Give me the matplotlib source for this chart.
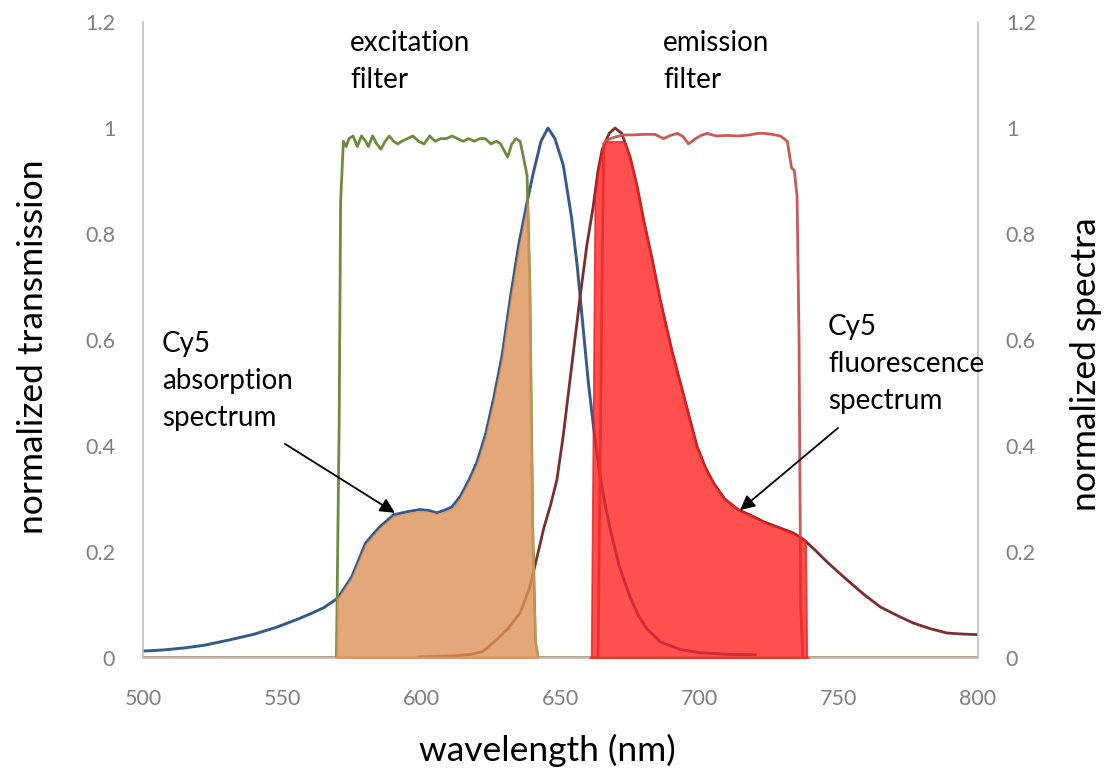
import matplotlib
matplotlib.use("Agg")
import matplotlib.pyplot as plt
import numpy as np

plt.rcParams["font.family"] = ["Lato", "DejaVu Sans"]

# Cy5 absorption spectrum (blue)
ABS_WL = [500, 507, 515, 522, 531, 540, 548, 555, 560, 565, 570, 575, 580,
          585, 590, 595, 599.5, 603, 605.5, 608, 611, 614, 617.5, 620, 623,
          626, 629, 632, 635, 638, 640, 643, 645.5, 648, 651, 654, 656, 658,
          660, 662, 664, 666, 668, 671, 675, 678, 681, 686, 693, 700, 710, 720]
ABS_VAL = [0.013, 0.015, 0.019, 0.024, 0.034, 0.045, 0.058, 0.072, 0.083,
           0.095, 0.113, 0.153, 0.217, 0.247, 0.27, 0.276, 0.28, 0.278, 0.274,
           0.278, 0.285, 0.305, 0.34, 0.37, 0.42, 0.49, 0.57, 0.68, 0.78, 0.86,
           0.91, 0.975, 1.0, 0.98, 0.93, 0.83, 0.74, 0.63, 0.52, 0.43, 0.35,
           0.29, 0.24, 0.175, 0.115, 0.08, 0.055, 0.03, 0.016, 0.01, 0.007,
           0.006]

# Cy5 fluorescence spectrum (dark red)
FL_WL = [599, 605, 612, 618, 622, 627, 631, 635.5, 639, 642, 644, 646.5,
         648.7, 651, 654, 657, 659.5, 661.7, 663.5, 665, 667.5, 669.6, 672,
         675, 677.5, 679.7, 683, 685.8, 690, 695, 699, 702, 705, 709, 713.8,
         718, 723, 728, 733.6, 737, 740.8, 746, 753, 759, 765, 771, 776.7,
         783, 789, 795, 800]
FL_VAL = [0.002, 0.003, 0.004, 0.007, 0.012, 0.034, 0.055, 0.085, 0.134,
          0.2, 0.245, 0.29, 0.336, 0.42, 0.55, 0.68, 0.78, 0.85, 0.92, 0.96,
          0.99, 1.0, 0.99, 0.945, 0.89, 0.83, 0.75, 0.676, 0.58, 0.48, 0.40,
          0.36, 0.33, 0.30, 0.28, 0.27, 0.257, 0.247, 0.236, 0.225, 0.207,
          0.18, 0.147, 0.12, 0.096, 0.08, 0.066, 0.055, 0.047, 0.045, 0.044]

# excitation filter transmission (green)
EXC_WL = [500, 569.5, 570.5, 571, 572, 573, 574, 575.5, 577, 578.5, 580, 581,
          582.5, 584, 585.5, 587, 588.5, 590, 591.5, 593, 595, 597, 599, 601,
          603, 605, 607, 609, 611, 613, 615, 617, 619, 621, 623, 625, 627,
          628.5, 630, 631, 632.5, 634, 635.5, 636.5, 638, 639, 640, 641, 642,
          800]
EXC_VAL = [0, 0, 0.45, 0.86, 0.975, 0.965, 0.98, 0.985, 0.965, 0.985, 0.975,
           0.965, 0.985, 0.97, 0.96, 0.975, 0.985, 0.975, 0.97, 0.975, 0.98,
           0.985, 0.975, 0.97, 0.985, 0.975, 0.98, 0.98, 0.985, 0.98, 0.975,
           0.98, 0.975, 0.98, 0.98, 0.97, 0.975, 0.97, 0.955, 0.945, 0.97,
           0.98, 0.975, 0.95, 0.91, 0.7, 0.25, 0.03, 0, 0]

# emission filter transmission (light red)
EM_WL = [500, 663.5, 664.5, 665.5, 667, 669, 672.5, 676, 680, 684, 687,
         689.5, 692, 694, 696, 698.5, 700.5, 702.6, 706, 710, 714, 718, 721,
         723, 726, 729, 731.5, 733, 734, 735, 735.7, 736.3, 737, 800]
EM_VAL = [0, 0, 0.5, 0.97, 0.978, 0.982, 0.987, 0.987, 0.988, 0.988, 0.98,
          0.986, 0.99, 0.984, 0.97, 0.98, 0.986, 0.99, 0.985, 0.986, 0.985,
          0.987, 0.99, 0.99, 0.988, 0.985, 0.975, 0.925, 0.92, 0.87, 0.6, 0.1,
          0, 0]

# pass band used for the shaded transmitted fluorescence
FILL_WL = [661, 662.5, 736.5, 738.5]
FILL_ENV = [0, 0.975, 0.975, 0]

X_TICKS = [500, 550, 600, 650, 700, 750, 800]
Y_TICKS = [0, 0.2, 0.4, 0.6, 0.8, 1, 1.2]
Y_TICK_LABELS = ["0", "0.2", "0.4", "0.6", "0.8", "1", "1.2"]

C_ABS = "#34598a"
C_FL = "#7a2e2e"
C_EXC = "#6e8b3d"
C_EM = "#c85a58"
C_TAN = "#dc9257"
C_RED = "#ff1f1f"
C_AXIS = "#c0c0c0"
C_TICK = "#7f7f7f"

fig = plt.figure(figsize=(11.1, 7.73), dpi=100)
ax = fig.add_axes([0.1288, 0.1488, 0.7523, 0.8227])

ax.plot(ABS_WL, ABS_VAL, color=C_ABS, lw=2.1, zorder=2)
ax.plot(FL_WL, FL_VAL, color=C_FL, lw=2.0, zorder=2)
ax.plot(EM_WL, EM_VAL, color=C_EM, lw=2.0, zorder=2)
ax.plot(EXC_WL, EXC_VAL, color=C_EXC, lw=2.0, zorder=2.5)

# absorbed light through the excitation filter
g1 = np.linspace(569, 642, 1500)
tan = np.minimum(np.interp(g1, ABS_WL, ABS_VAL), np.interp(g1, EXC_WL, EXC_VAL))
ax.fill_between(g1, 0, tan * 0.99, facecolor=C_TAN, edgecolor=C_TAN, lw=1,
                alpha=0.8, zorder=3)

# fluorescence passed by the emission filter
g2 = np.linspace(660.5, 739, 1500)
red = np.minimum(np.interp(g2, FL_WL, FL_VAL, left=0, right=0),
                 np.interp(g2, FILL_WL, FILL_ENV, left=0, right=0))
ax.fill_between(g2, 0, red, facecolor=C_RED, edgecolor="#f01818", lw=1.2,
                alpha=0.78, zorder=3)

ax.set_xlim(500, 800)
ax.set_ylim(0, 1.2)
ax.set_xticks(X_TICKS)
ax.set_yticks(Y_TICKS)
ax.set_yticklabels(Y_TICK_LABELS)
ax.tick_params(axis="x", length=0, pad=22, labelsize=15.5, labelcolor=C_TICK)
ax.tick_params(axis="y", length=0, pad=20, labelsize=15.5, labelcolor=C_TICK)
for side in ["left", "right", "bottom"]:
    ax.spines[side].set_color(C_AXIS)
    ax.spines[side].set_linewidth(1.2)
ax.spines["top"].set_visible(False)

ax2 = ax.twinx()
ax2.set_ylim(0, 1.2)
ax2.set_yticks(Y_TICKS)
ax2.set_yticklabels(Y_TICK_LABELS)
ax2.tick_params(axis="y", length=0, pad=20, labelsize=15.5, labelcolor=C_TICK)
for s in ax2.spines.values():
    s.set_visible(False)

fig.text(547 / 1110, 1 - 750 / 773, "wavelength (nm)", fontsize=25.5,
         ha="center", va="center")
fig.text(33 / 1110, 1 - 347 / 773, "normalized transmission", fontsize=25.5,
         rotation=90, ha="center", va="center")
fig.text(1086 / 1110, 1 - 364 / 773, "normalized spectra", fontsize=25.5,
         rotation=90, ha="center", va="center")

# va="baseline" puts the last line's baseline at y
txt = dict(fontsize=20, ha="left", va="baseline", linespacing=1.52, zorder=5)
ax.text(574.4, 1.075, "excitation\nfilter", **txt)
ax.text(686.8, 1.075, "emission\nfilter", **txt)
ax.text(506.8, 0.438, "Cy5\nabsorption\nspectrum", **txt)
ax.text(746.1, 0.470, "Cy5\nfluorescence\nspectrum", **txt)

arrow = dict(arrowstyle="-|>", color="black", lw=1.3, mutation_scale=22,
             shrinkA=0, shrinkB=0)
ax.annotate("", xy=(590.5, 0.274), xytext=(551.0, 0.404), arrowprops=arrow,
            zorder=5)
ax.annotate("", xy=(714.5, 0.279), xytext=(749.7, 0.434), arrowprops=arrow,
            zorder=5)

fig.savefig("out.png", dpi=100)
